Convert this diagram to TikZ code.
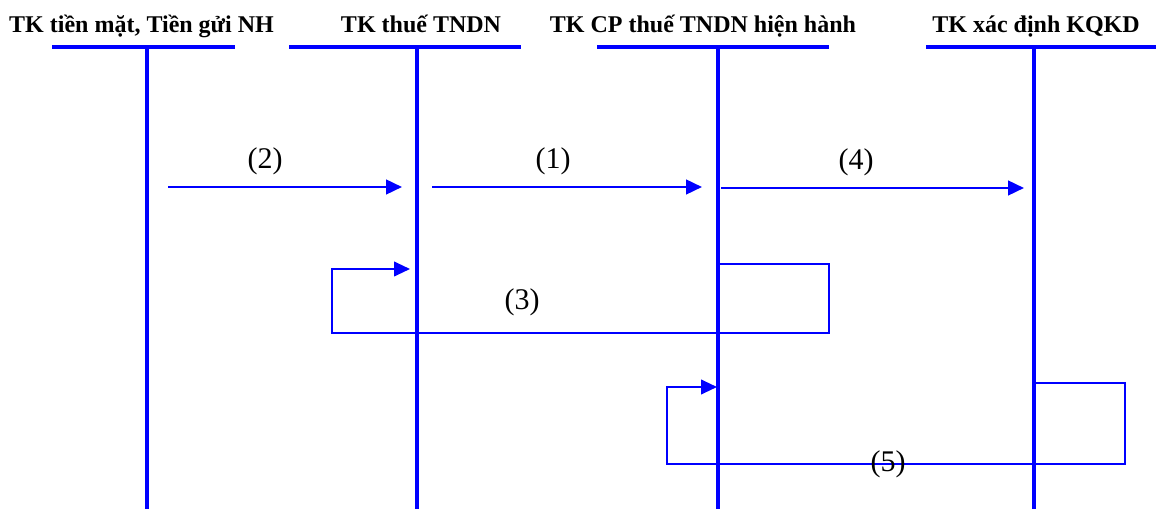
\documentclass[tikz,border=0pt]{standalone}
\usepackage{fontspec}
\setmainfont{Liberation Serif}
\usetikzlibrary{arrows.meta,positioning,calc}

\begin{document}
\begin{tikzpicture}[
  x=0.75pt, y=-0.75pt,
  title/.style={font=\bfseries\fontsize{18}{20}\selectfont, anchor=base, inner sep=0pt},
  lbl/.style={font=\fontsize{22.5}{24}\selectfont, inner sep=0pt},
  taccount/.style={draw=blue, line width=3pt},
  flow/.style={draw=blue, line width=1.9pt, -{Triangle[length=12pt, width=11pt]}},
  loopback/.style={draw=blue, line width=1.5pt, -{Triangle[length=12pt, width=11pt]}}
]
\useasboundingbox (0,0) rectangle (1157,509);

% account titles
\node[title] (t1) at (141.5,33) {TK tiền mặt, Tiền gửi NH};
\node[title] (t2) at (421,33) {TK thuế TNDN};
\node[title] (t3) at (703,33) {TK CP thuế TNDN hiện hành};
\node[title] (t4) at (1036,33) {TK xác định KQKD};

% T-accounts
\foreach \n/\x/\l/\r in {1/147/52/235, 2/417/289/521, 3/718/597/829, 4/1034/926/1156} {
  \coordinate (l\n) at (\l,47.5);
  \coordinate (r\n) at (\r,47.5);
  \coordinate (top\n) at (\x,47.5);
  \coordinate (bot\n) at (\x,509);
  \draw[taccount] (l\n) -- (r\n);
  \draw[taccount] (top\n) -- (bot\n);
}

% straight entries
\coordinate (s2) at (168,187);
\coordinate (e2) at (402,187);
\coordinate (s1) at (432,187);
\coordinate (e1) at (702,187);
\coordinate (s4) at (721,188);
\coordinate (e4) at (1024,188);
\draw[flow] (s2) -- (e2);
\draw[flow] (s1) -- (e1);
\draw[flow] (s4) -- (e4);
\node[lbl] (n2) at (265,161) {(2)};
\node[lbl] (n1) at (553,161) {(1)};
\node[lbl] (n4) at (856,162) {(4)};

% entries going back
\coordinate (s3) at (718,264);
\coordinate (e3) at (410,269);
\draw[loopback] (s3) -- (829,264) -- (829,333) -- (332,333) -- (332,269) -- (e3);
\node[lbl] (n3) at (522,302) {(3)};

\coordinate (s5) at (1034,383.5);
\coordinate (e5) at (717,387);
\draw[loopback] (s5) -- (1125,383.5) -- (1125,464) -- (667,464) -- (667,387) -- (e5);
\node[lbl] (n5) at (888,464) {(5)};
\end{tikzpicture}
\end{document}
